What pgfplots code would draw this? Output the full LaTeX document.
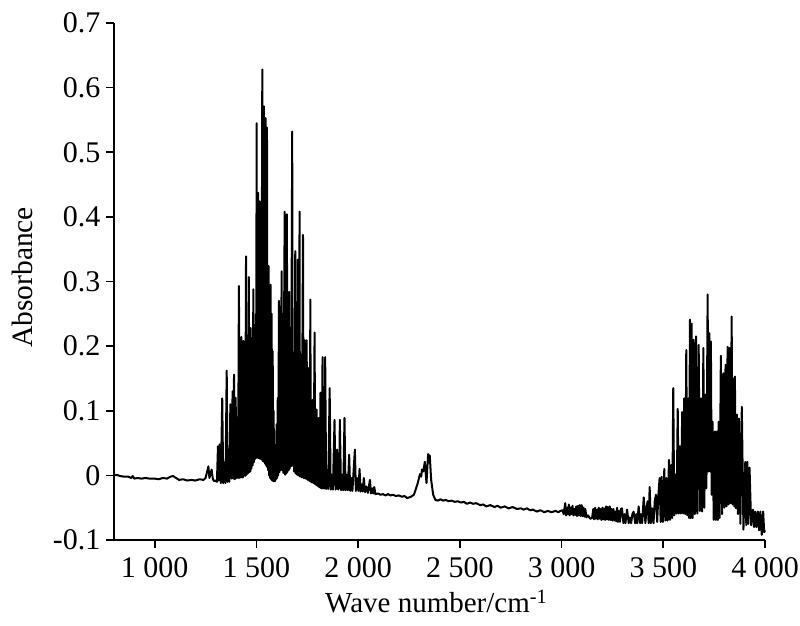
\documentclass[border=0pt]{standalone}
\usepackage{fontspec}
\setmainfont{Liberation Serif}
\usepackage{pgfplots}
\pgfplotsset{compat=1.18}
\begin{document}
\begin{tikzpicture}
\path[use as bounding box] (-114pt,-85pt) rectangle (686pt,540pt);
\begin{axis}[
at={(0pt,0pt)},anchor=south west,
scale only axis,
width=651pt,height=517pt,
xmin=800,xmax=4000,ymin=-0.1,ymax=0.7,
axis x line=bottom,axis y line=left,
axis line style={-,line width=1.7pt,black},
tick style={line width=1.7pt,black},
tickwidth=8pt,
tick align=outside,
xtick={1000,1500,2000,2500,3000,3500,4000},
xticklabels={1 000,1 500,2 000,2 500,3 000,3 500,4 000},
ytick={-0.1,0,0.1,0.2,0.3,0.4,0.5,0.6,0.7},
yticklabels={-0.1,0,0.1,0.2,0.3,0.4,0.5,0.6,0.7},
ticklabel style={font=\fontsize{30}{32}\selectfont},
xticklabel style={yshift=-6pt},
yticklabel style={xshift=-2pt},
xlabel={Wave number/cm\textsuperscript{-1}},
ylabel={Absorbance},
xlabel style={font=\fontsize{29}{32}\selectfont,at={(0.495,0)},anchor=north,yshift=-47pt},
ylabel style={font=\fontsize{29.5}{32}\selectfont,at={(0,0.508)},anchor=south,yshift=78pt},
clip=false,
]
\addplot[black,line width=2pt,line join=round] coordinates {
(800,0)(812,0.001)(830,-0.001)(850,-0.002)(870,-0.002)(885,-0.004)(892,-0.001)(900,-0.005)(915,-0.004)(935,-0.005)(955,-0.004)(975,-0.005)(1000,-0.005)(1020,-0.006)(1040,-0.004)(1060,-0.005)(1078,-0.002)(1090,-0.001)(1105,-0.004)(1120,-0.007)(1140,-0.006)(1160,-0.008)(1180,-0.007)(1200,-0.008)(1220,-0.006)(1240,-0.007)(1250,-0.004)(1258,0.006)(1264,0.014)(1269,-0.004)(1274,0.002)(1280,0.009)(1286,-0.006)(1293,-0.009)(1300,-0.008)(1306,-0.01)
(1311,.045)(1315,-.008)(1319,.048)(1325,-.012)(1332,.119)(1337,-.012)(1343,.02)(1348,-.012)(1354,.162)(1358,-.01)(1363,.04)(1367,-.01)(1372,.110)(1377,-.005)(1383,.130)(1386,-.005)(1390,.156)(1394,-.006)(1398,.120)(1402,-.004)(1406,.09)(1410,-.004)(1414,.293)(1418,-.004)(1422,.13)(1424,-.003)(1426,.214)(1430,-.003)(1433,.16)(1434,-.003)(1436,.208)
(1439,0)(1442,.17)(1445,-.001)(1449,.339)(1452,.001)(1455,.19)(1458,.003)(1463,.307)(1465,.005)(1468,.20)(1470,.006)(1472,.228)(1475,.01)(1478,.21)(1481,.015)(1485,.288)(1487,.02)(1490,.23)(1492,.025)(1493,.233)(1495,.027)(1498,.25)(1499,.027)(1501,.545)(1503,.028)(1505,.27)(1507,.027)(1509,.437)(1511,.027)(1514,.28)(1515,.026)(1517,.424)(1519,.026)(1522,.25)(1524,.025)(1529,.628)(1531,.022)(1534,.27)(1535,.022)(1537,.571)(1539,.02)(1542,.29)(1543,.018)(1545,.553)(1547,.016)(1550,.30)(1551,.014)(1552,.538)(1554,.012)(1557,.31)(1558,.008)(1560,.324)(1562,.0)(1565,.29)(1567,-.004)(1570,.295)(1572,-.006)(1575,.25)(1577,-.008)(1580,.192)(1583,-.009)(1585,.10)(1586,-.009)(1588,.048)(1592,-.009)(1595,.03)(1597,-.006)(1599,.079)(1602,-.004)(1605,.12)(1607,0)(1611,.270)(1613,.005)(1617,.23)(1619,.008)(1624,.316)(1626,.008)(1630,.25)(1632,.004)(1639,.408)(1641,.001)(1645,.25)(1647,.003)(1650,.404)(1652,.005)(1656,.22)(1658,.008)(1661,.284)(1663,.01)(1668,.2)(1670,.014)(1676,.532)(1678,.015)(1684,.19)(1686,.006)(1691,.347)(1693,.003)(1698,.19)(1700,.001)(1704,.334)(1706,.0)(1709,.19)(1710,.0)(1712,.408)(1714,-.002)(1720,.187)(1723,-.003)(1729,.372)(1732,-.004)(1735,.17)(1736,-.004)(1738,.209)(1741,-.005)(1744,.16)(1745,-.005)(1747,.209)(1750,-.006)(1752,.15)(1753,-.007)(1755,.166)(1758,-.008)(1762,.13)(1763,-.009)(1765,.272)(1768,-.01)(1772,.1)(1774,-.011)(1778,.117)(1781,-.012)(1786,.221)(1789,-.014)(1793,.08)(1795,-.015)(1796,.102)(1799,-.016)(1803,.07)(1804,-.017)(1806,.089)(1809,-.018)(1813,.04)(1814,-.019)(1815,.128)(1819,-.02)(1822,.01)(1823,-.02)(1825,.183)(1830,-.02)(1834,-.002)(1836,-.02)(1838,.183)(1843,-.021)(1848,-.004)(1853,-.021)(1860,.135)(1865,-.022)(1871,.001)(1876,-.022)(1884,.086)(1889,-.022)(1893,.02)(1895,-.02)(1897,.040)(1902,-.022)(1906,.01)(1908,-.02)(1910,.086)(1916,-.023)(1922,.001)(1927,-.023)(1933,.089)(1938,-.023)(1943,.001)(1949,-.023)(1956,.032)(1961,-.024)(1966,-.004)(1972,-.024)(1984,.040)(1989,-.024)(1995,-.004)(2001,-.024)(2007,.010)(2012,-.025)(2018,-.014)(2023,-.025)(2028,-.004)(2034,-.026)(2040,-.017)(2048,-.027)(2058,-.007)(2063,-.028)(2069,-.020)(2074,-.028)(2079,-.018)(2085,-.029)
(2098,-.028)(2110,-.030)(2122,-.029)(2135,-.031)(2147,-.029)(2159,-.031)(2172,-.030)(2186,-.032)(2200,-.031)(2215,-.033)(2228,-.032)(2241,-.035)(2252,-.034)(2260,-.033)(2274,-.030)(2285,-.02)(2293,-.012)(2304,.002)(2310,-.002)(2314,.009)(2320,.006)(2328,.021)(2336,-.012)(2344,.033)(2348,.02)(2352,.031)(2359,-.007)(2369,-.030)(2380,-.038)(2392,-.039)(2405,-.037)(2418,-.039)(2430,-.038)(2445,-.040)(2460,-.039)(2475,-.041)(2490,-.040)(2505,-.042)(2520,-.041)(2535,-.044)(2550,-.042)(2565,-.044)(2580,-.043)(2600,-.046)(2615,-.045)(2630,-.048)(2650,-.046)(2670,-.049)(2685,-.047)(2700,-.050)(2720,-.048)(2740,-.051)(2760,-.049)(2780,-.052)(2800,-.051)(2814,-.053)(2830,-.051)(2845,-.054)(2860,-.053)(2878,-.056)(2896,-.054)(2915,-.057)(2933,-.055)(2950,-.057)(2970,-.055)(2985,-.057)(2994,-.055)(3005,-.054)(3010,-.060)(3018,-.043)(3022,-.062)(3027,-.050)(3031,-.060)(3036,-.045)(3040,-.062)(3045,-.050)(3049,-.060)(3054,-.047)(3058,-.062)(3063,-.052)(3067,-.061)(3072,-.048)(3076,-.063)(3081,-.047)(3085,-.062)(3090,-.046)(3094,-.063)(3099,-.046)(3103,-.063)(3108,-.050)(3112,-.064)(3117,-.052)(3122,-.065)(3130,-.062)(3141,-.067)(3150,-.066)(3156,-.052)(3160,-.068)(3165,-.050)(3169,-.067)(3174,-.053)(3178,-.068)(3183,-.050)(3187,-.067)(3192,-.052)(3196,-.069)(3201,-.050)(3205,-.068)(3210,-.051)(3214,-.069)(3219,-.048)(3223,-.068)(3228,-.049)(3232,-.069)(3237,-.048)(3241,-.069)(3246,-.052)(3250,-.070)(3255,-.052)(3259,-.070)(3264,-.056)(3268,-.071)(3273,-.050)(3277,-.072)(3282,-.055)(3287,-.072)(3292,-.052)
(3297,-.051)(3304,-.074)(3309,-.06)(3314,-.074)(3322,-.053)(3330,-.074)(3336,-.065)(3342,-.074)(3348,-.06)(3354,-.056)(3362,-.074)(3367,-.06)(3372,-.074)(3379,-.048)(3386,-.074)(3391,-.06)(3396,-.074)(3404,-.034)(3412,-.074)(3418,-.05)(3423,-.040)(3428,-.074)(3433,-.018)(3439,-.074)(3445,-.051)(3452,-.074)(3458,-.04)(3464,-.030)(3470,-.072)(3476,-.03)(3482,-.004)(3487,-.072)(3492,-.002)(3498,-.072)(3505,.010)(3510,-.07)(3515,-.004)(3521,-.07)(3528,.024)(3533,-.069)(3539,.016)(3544,-.066)(3549,.135)(3554,-.062)(3559,.001)(3565,-.059)(3571,.103)(3576,-.059)(3580,.045)(3586,-.059)(3593,.098)(3598,-.059)(3603,.119)(3608,-.06)(3613,.194)(3618,-.062)(3623,.119)(3627,-.066)(3631,.241)(3635,-.066)(3639,.235)(3644,-.066)(3649,.210)(3655,-.06)(3661,.215)(3667,-.059)(3674,.202)(3680,-.055)(3685,.119)(3691,-.056)(3697,.197)(3702,-.05)(3706,.125)(3712,-.02)(3718,.280)(3722,.006)(3726,.220)(3730,.006)(3734,.207)(3738,-.03)(3742,.083)(3748,-.069)(3754,.068)(3759,-.069)(3764,.068)(3768,-.069)(3772,.083)(3777,-.066)(3783,.185)(3789,-.06)(3795,.158)(3800,-.05)(3806,.171)(3811,-.048)(3816,.199)(3821,-.045)(3826,.197)(3831,-.043)(3836,.246)(3841,-.045)(3846,.150)(3849,-.048)(3852,.153)(3857,-.051)(3862,.094)(3867,-.06)(3872,.088)(3879,-.075)(3886,.106)(3894,-.084)(3903,.021)(3908,-.077)(3913,.021)(3918,-.075)(3924,.012)(3932,-.077)(3941,-.053)(3946,-.08)(3952,-.056)(3958,-.08)(3965,-.056)(3971,-.085)(3977,-.056)(3984,-.092)(3991,-.056)(3996,-.088)(4000,-.085)
};
\end{axis}
\end{tikzpicture}
\end{document}
